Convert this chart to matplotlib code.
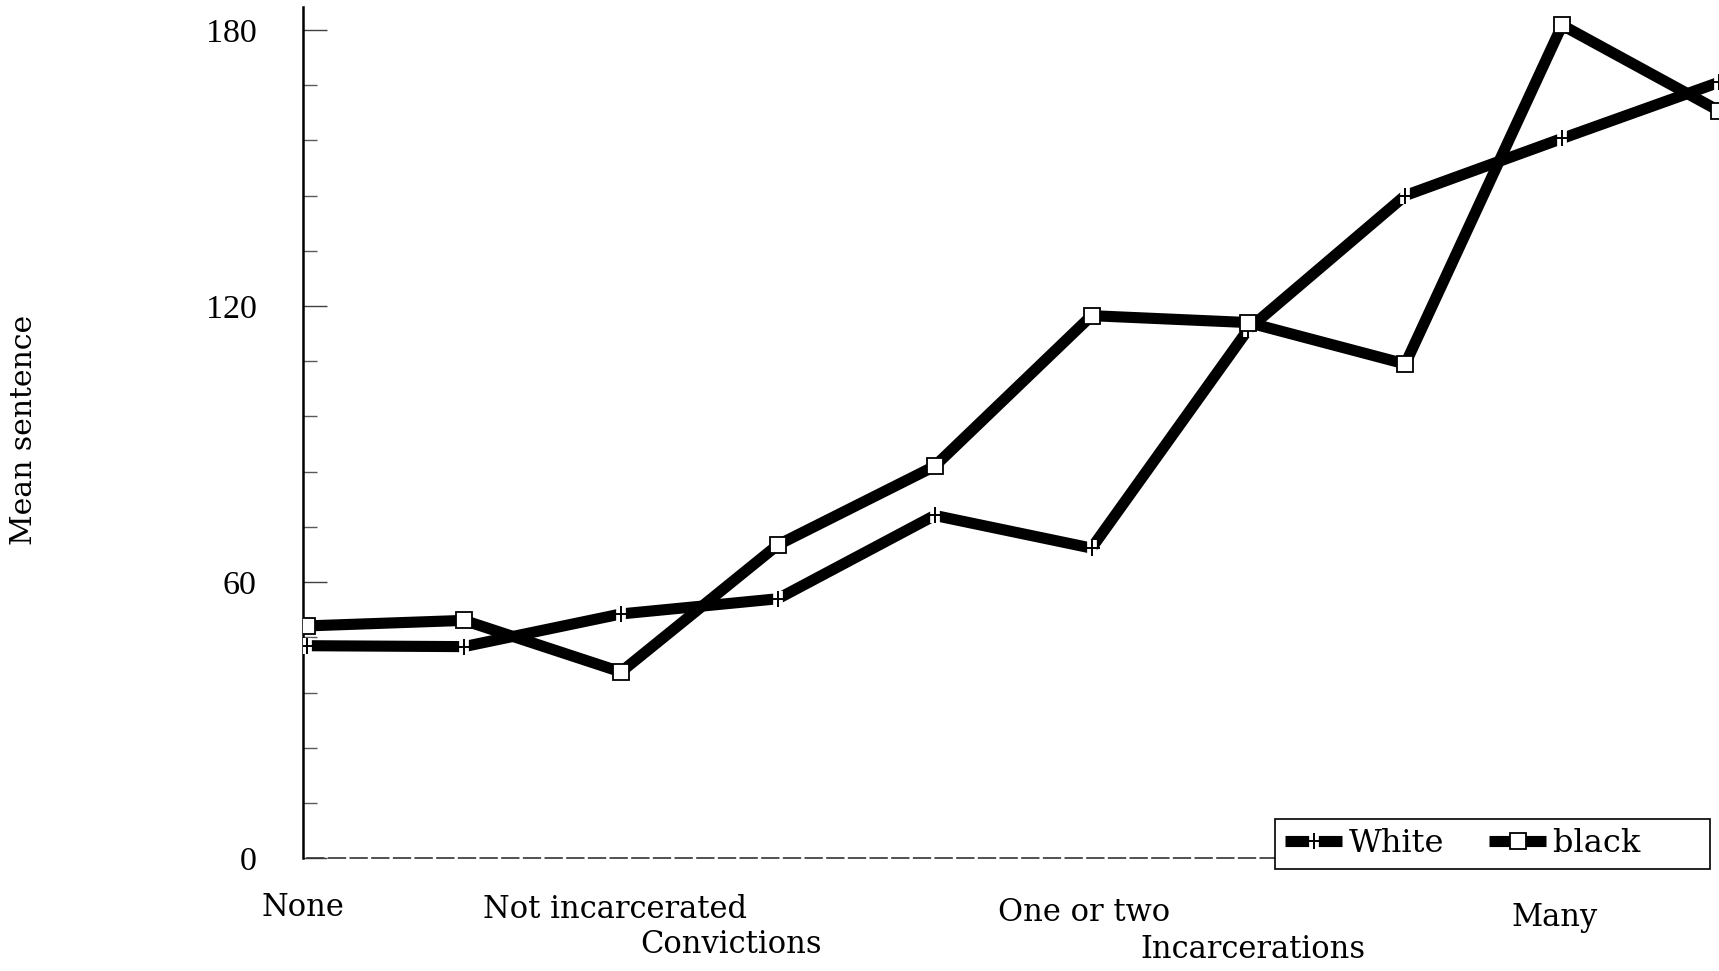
import matplotlib
matplotlib.use("Agg")
import matplotlib.pyplot as plt
import matplotlib.transforms as mtransforms
from matplotlib.ticker import MultipleLocator
from matplotlib.legend_handler import HandlerTuple

# prior record categories (10 steps along x)
steps = list(range(10))
white = [46.2, 46.0, 53.1, 56.4, 74.5, 67.4, 115.0, 144.0, 156.4, 168.6]
black = [50.5, 51.7, 40.5, 68.1, 85.2, 117.9, 116.4, 107.4, 181.0, 162.4]

yticks = [0, 60, 120, 180]
# (label, x in data units, y in figure fraction)
xlabels = [
    ("None", -0.03, 0.065),
    ("Not incarcerated", 1.96, 0.063),
    ("Convictions", 2.70, 0.027),
    ("One or two", 4.95, 0.060),
    ("Incarcerations", 6.03, 0.022),
    ("Many", 7.95, 0.055),
]

fig = plt.figure(figsize=(17.19, 9.71), dpi=100)
ax = fig.add_axes([0.176, 0.116, 0.824, 0.877])

lw = 8
# white series: thick line with small gaps holding a '+'
l1, = ax.plot(steps, white, color="black", lw=lw, solid_capstyle="butt", zorder=2)
g1, = ax.plot(steps, white, ls="none", marker="|", ms=12, mew=7, color="white", zorder=3)
p1, = ax.plot(steps, white, ls="none", marker="+", ms=11, mew=1.4, color="black", zorder=4)
# black series: thick line with open squares
l2, = ax.plot(steps, black, color="black", lw=lw, solid_capstyle="butt", zorder=2)
s2, = ax.plot(steps, black, ls="none", marker="s", ms=11, mfc="white", mec="black", mew=1.3, zorder=5)

ax.set_xlim(-0.03, 9.0)
ax.set_ylim(0, 185)
ax.set_xticks([])
ax.set_yticks(yticks)
ax.yaxis.set_minor_locator(MultipleLocator(12))
ax.tick_params(axis="y", which="major", direction="in", length=17, width=1, color="0.25", pad=33)
ax.tick_params(axis="y", which="minor", direction="in", length=10, width=1, color="0.35")
for lab in ax.get_yticklabels():
    lab.set_fontfamily("Liberation Serif")
    lab.set_fontsize(24.5)

for side in ["top", "right"]:
    ax.spines[side].set_visible(False)
ax.spines["left"].set_linewidth(1.8)
ax.spines["bottom"].set_linewidth(1.2)
ax.spines["bottom"].set_linestyle((0, (10, 3)))
ax.spines["bottom"].set_color("0.2")
ax.spines["bottom"].set_bounds(0, 8.5)

trans = mtransforms.blended_transform_factory(ax.transData, fig.transFigure)
for text, xv, yf in xlabels:
    ax.text(xv, yf, text, transform=trans, ha="center", va="center",
            fontsize=22, family="DejaVu Serif", clip_on=False)

fig.text(0.014, 0.557, "Mean sentence", rotation=90, ha="center", va="center",
         fontsize=21.5, family="DejaVu Serif")

leg = ax.legend([(l1, g1, p1), (l2, s2)], ["White", "black      "],
                handler_map={tuple: HandlerTuple(ndivide=1)},
                loc="lower right", bbox_to_anchor=(0.995, 0.105),
                bbox_transform=fig.transFigure, borderaxespad=0,
                ncol=2, handlelength=1.8, handletextpad=0.2, columnspacing=1.4,
                borderpad=0.3, fancybox=False, framealpha=1, edgecolor="black",
                prop={"family": "DejaVu Serif", "size": 23})
leg.get_frame().set_linewidth(1.2)

fig.savefig("out.png", dpi=100)
